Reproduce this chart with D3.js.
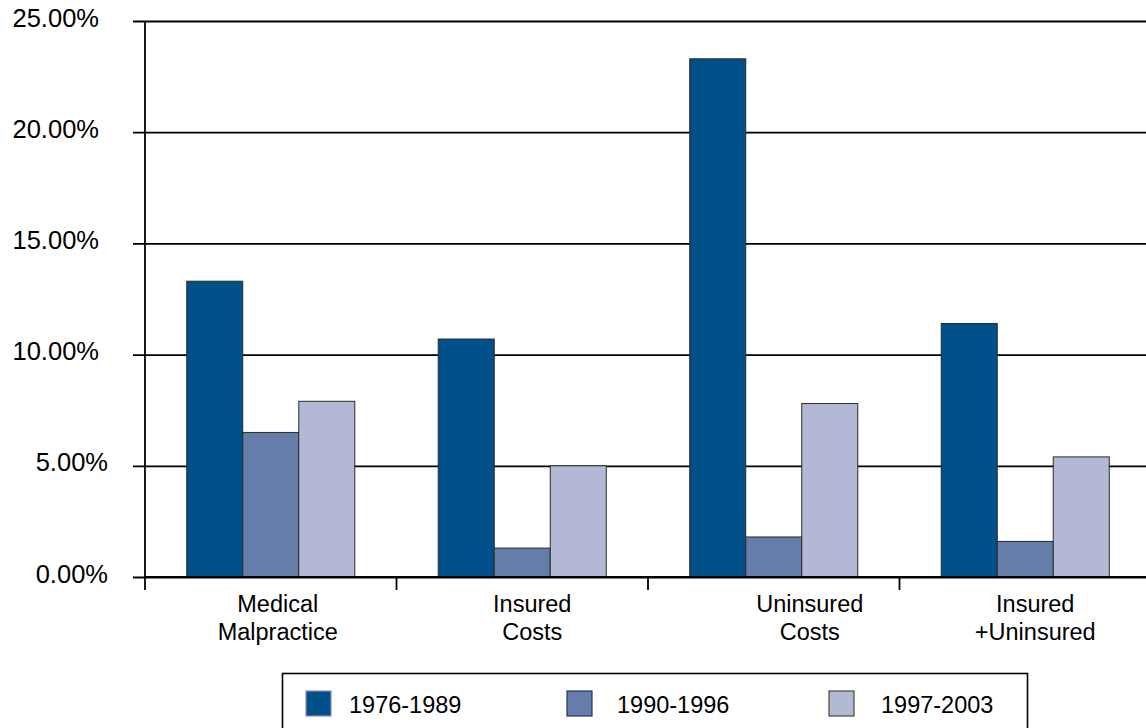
<!DOCTYPE html>
<html>
<head>
<meta charset="utf-8">
<script src="https://cdn.jsdelivr.net/npm/d3@7"></script>
<style>
  html, body { margin: 0; padding: 0; background: #fff; }
  svg { display: block; font-family: "Liberation Sans", Arial, sans-serif; }
</style>
</head>
<body>
<svg id="chart" width="1146" height="728"></svg>
<script>
// Average annual growth, by period
const categories = ["Medical Malpractice", "Insured Costs", "Uninsured Costs", "Insured +Uninsured"];
const categoryLines = [["Medical", "Malpractice"], ["Insured", "Costs"], ["Uninsured", "Costs"], ["Insured", "+Uninsured"]];
const periods = ["1976-1989", "1990-1996", "1997-2003"];
const s1976 = [13.3, 10.7, 23.3, 11.4];
const s1990 = [6.5, 1.3, 1.8, 1.6];
const s1997 = [7.9, 5.0, 7.8, 5.4];
const yTicks = [0, 5, 10, 15, 20, 25];

const seriesValues = [s1976, s1990, s1997];
const colors = ["#00508a", "#677da9", "#b3b9d4"];
const legendStroke = ["#9888b8", "#1f3466", "#4a4838"];

const svg = d3.select("#chart");
const W = 1146, H = 728;
svg.append("rect").attr("width", W).attr("height", H).attr("fill", "#fff");

// Plot frame
const x0 = 145, y0 = 577, yTop = 21;
const groupW = 251.5;

const x = d3.scaleBand().domain(categories).range([x0, x0 + groupW * categories.length]).paddingInner(0).paddingOuter(0);
const xi = d3.scaleBand().domain(periods).range([0, x.bandwidth()]).paddingInner(0).paddingOuter(0.745);
const y = d3.scaleLinear().domain([0, 25]).range([y0, yTop]);

// Gridlines with left ticks
const grid = svg.append("g")
  .attr("transform", `translate(${x0},0)`)
  .call(d3.axisLeft(y).tickValues(yTicks).tickSize(-(W - x0)).tickFormat(""));
grid.select(".domain").remove();
grid.selectAll(".tick line").attr("stroke", "#000").attr("stroke-width", 1.8).attr("x1", -12);

// Y tick labels
svg.append("g").selectAll("text")
  .data(yTicks)
  .join("text")
  .attr("x", d => d >= 10 ? 99 : 108)
  .attr("y", d => y(d) - 3.5)
  .attr("text-anchor", "end")
  .attr("dominant-baseline", "central")
  .attr("font-size", 25.5)
  .attr("fill", "#000")
  .text(d => d3.format(".2f")(d) + "%");

// Bars
const groups = svg.append("g").selectAll("g")
  .data(categories)
  .join("g")
  .attr("transform", d => `translate(${x(d)},0)`);

groups.selectAll("rect")
  .data((c, ci) => periods.map((p, pi) => ({ p, pi, v: seriesValues[pi][ci] })))
  .join("rect")
  .attr("x", d => xi(d.p))
  .attr("width", xi.bandwidth())
  .attr("y", d => y(d.v))
  .attr("height", d => y0 - y(d.v))
  .attr("fill", d => colors[d.pi])
  .attr("stroke", "#2a2a2a")
  .attr("stroke-width", 1);

// Y axis line
svg.append("line")
  .attr("x1", x0).attr("x2", x0)
  .attr("y1", yTop).attr("y2", y0 + 13)
  .attr("stroke", "#000").attr("stroke-width", 1.8);

// X axis line + group boundary ticks
svg.append("line")
  .attr("x1", x0).attr("x2", W)
  .attr("y1", y0).attr("y2", y0)
  .attr("stroke", "#000").attr("stroke-width", 1.8);

svg.append("g").selectAll("line")
  .data(categories.slice(1))
  .join("line")
  .attr("x1", d => x(d)).attr("x2", d => x(d))
  .attr("y1", y0).attr("y2", y0 + 13)
  .attr("stroke", "#000").attr("stroke-width", 1.8);

// Category labels (two lines each)
const labelNudge = [7, 10, 36, 10];
const labels = svg.append("g").selectAll("text")
  .data(categories)
  .join("text")
  .attr("text-anchor", "middle")
  .attr("font-size", 23.5)
  .attr("fill", "#000");
labels.each(function (d, i) {
  const cx = x(d) + x.bandwidth() / 2 + labelNudge[i];
  d3.select(this).selectAll("tspan")
    .data(categoryLines[i])
    .join("tspan")
    .attr("x", cx)
    .attr("y", (t, j) => 612 + j * 28)
    .text(t => t);
});

// Legend
const legend = svg.append("g");
legend.append("rect")
  .attr("x", 282.5).attr("y", 673.5)
  .attr("width", 745).attr("height", 80)
  .attr("fill", "#fff").attr("stroke", "#000").attr("stroke-width", 1.6);

const legendX = [306, 567, 829];
const items = legend.selectAll("g.item")
  .data(periods)
  .join("g")
  .attr("class", "item")
  .attr("transform", (d, i) => `translate(${legendX[i]},691)`);
items.append("rect")
  .attr("width", 25).attr("height", 25)
  .attr("fill", (d, i) => colors[i])
  .attr("stroke", (d, i) => legendStroke[i])
  .attr("stroke-width", 1.2);
items.append("text")
  .attr("x", (d, i) => [43, 50, 52][i])
  .attr("y", 22)
  .attr("font-size", 23.5)
  .attr("fill", "#000")
  .text(d => d);
</script>
</body>
</html>
